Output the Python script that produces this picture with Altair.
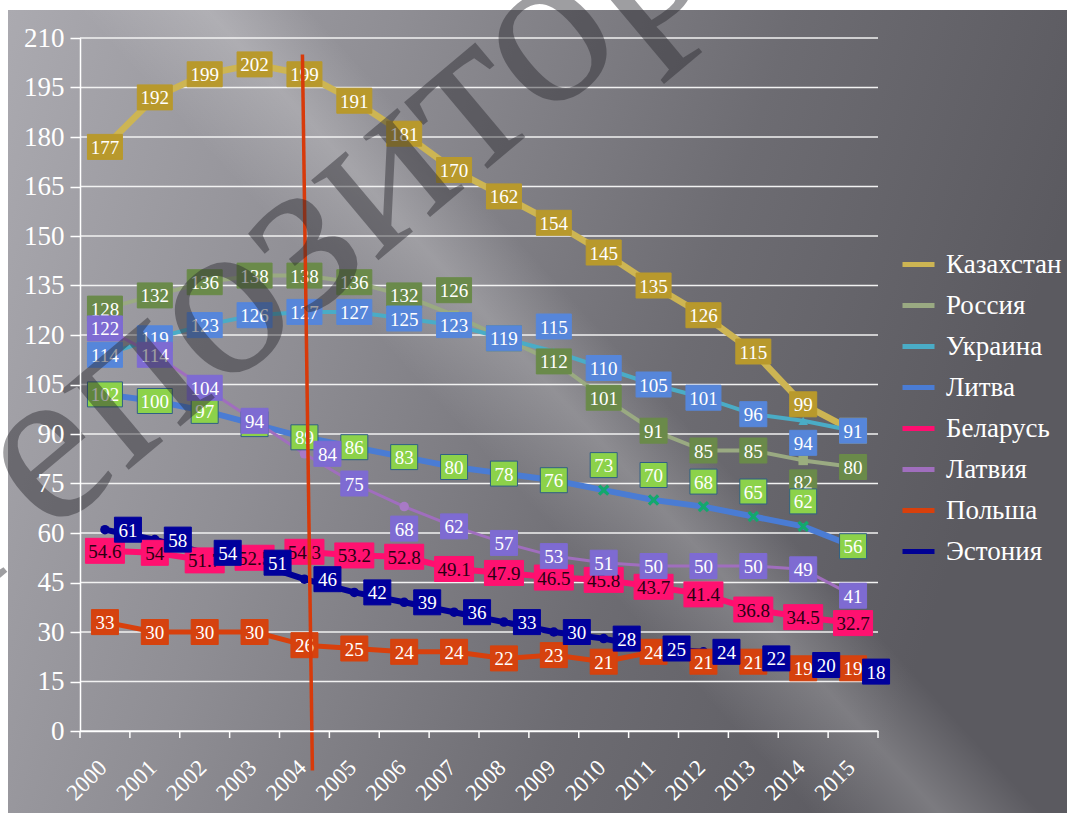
import altair as alt
import pandas as pd

# ---------------- data ----------------
YEARS = list(range(2000, 2016))
SERIES = ["Казахстан", "Россия", "Украина", "Литва", "Беларусь", "Латвия", "Польша", "Эстония"]
KAZ = [177, 192, 199, 202, 199, 191, 181, 170, 162, 154, 145, 135, 126, 115, 99, 91]
RUS = [128, 132, 136, 138, 138, 136, 132, 126, 119, 112, 101, 91, 85, 85, 82, 80]
UKR = [114, 119, 123, 126, 127, 127, 125, 123, 119, 115, 110, 105, 101, 96, 94, 91]
LIT = [102, 100, 97, 93, 89, 86, 83, 80, 78, 76, 73, 70, 68, 65, 62, 56]
BLR = [54.6, 54, 51.7, 52.5, 54.3, 53.2, 52.8, 49.1, 47.9, 46.5, 45.8, 43.7, 41.4, 36.8, 34.5, 32.7]
LAT = [122, 114, 104, 94, 84, 75, 68, 62, 57, 53, 51, 50, 50, 50, 49, 41]
POL = [33, 30, 30, 30, 26, 25, 24, 24, 22, 23, 21, 24, 21, 21, 19, 19]
EST = [61, 58, 54, 51, 46, 42, 39, 36, 33, 30, 28, 25, 24, 22, 20, 18]
VALUES = [KAZ, RUS, UKR, LIT, BLR, LAT, POL, EST]
Y_TICKS = list(range(0, 211, 15))
RED_LINE_X = [2003.96, 2004.16]
RED_LINE_Y = [205, -12]
WATERMARK = "Репозиторий"

# ---------------- styles ----------------
W, H = 798, 693
X_DOMAIN = [1999.5, 2015.5]
Y_DOMAIN = [0, 210]
PX_X = W / (X_DOMAIN[1] - X_DOMAIN[0])   # px per year
PX_Y = H / (Y_DOMAIN[1] - Y_DOMAIN[0])   # px per unit

X_SHAPE = "M-1,-0.6L-0.6,-1L0,-0.4L0.6,-1L1,-0.6L0.4,0L1,0.6L0.6,1L0,0.4L-0.6,1L-1,0.6L-0.4,0Z"
STYLE = {
    "Казахстан": dict(line="#CDB553", box="#B8992C", txt="#FFFFFF", sw=6.5, shape="diamond", mk="#F0C419", border="#B8992C"),
    "Россия":    dict(line="#9AAA82", box="#6A8A4A", txt="#FFFFFF", sw=4, shape="square", mk="#9BAE7E", border="#6A8A4A"),
    "Украина":   dict(line="#4AACC6", box="#5686DA", txt="#FFFFFF", sw=4, shape="triangle-up", mk="#4AACC6", border="#5686DA"),
    "Литва":     dict(line="#4A7CD4", box="#8CD24A", txt="#FFFFFF", sw=6, shape=X_SHAPE, mk="#14A86C", border="#2F5F86"),
    "Беларусь":  dict(line="#FF0E70", box="#FF1170", txt="#2A0012", sw=6, shape="circle", mk="#FF0E70", border="#FF1170"),
    "Латвия":    dict(line="#A06EBE", box="#7E6BD2", txt="#FFFFFF", sw=3, shape="circle", mk="#A87AC6", border="#7E6BD2"),
    "Польша":    dict(line="#D8400C", box="#D6420E", txt="#FFFFFF", sw=5, shape="diamond", mk="#D8400C", border="#D6420E"),
    "Эстония":   dict(line="#000094", box="#00009C", txt="#FFFFFF", sw=6, shape="circle", mk="#000094", border="#00009C"),
}
# label placement (Excel-style), default "center"
SERIES_PLACEMENT = {"Эстония": "right"}
POINT_PLACEMENT = {
    ("Россия", 2007): "above", ("Россия", 2014): "below",
    ("Украина", 2009): "above", ("Украина", 2014): "below",
    ("Литва", 2010): "above", ("Литва", 2011): "above", ("Литва", 2012): "above",
    ("Литва", 2013): "above", ("Литва", 2014): "above",
    ("Латвия", 2004): "right", ("Латвия", 2006): "below",
}
OFFSET_PX = {"center": (0, 0), "above": (0, -25), "below": (0, 22), "right": (23, 0)}
HALF_W_PX = {1: 10, 2: 13.5, 3: 17.5, 4: 19.5}
HALF_H_PX = 12.5

FONT = "Liberation Serif"

# ---------------- tables ----------------
rows = []
for si, (name, vals) in enumerate(zip(SERIES, VALUES)):
    st = STYLE[name]
    for yr, v in zip(YEARS, vals):
        lab = f"{v:g}"
        pl = POINT_PLACEMENT.get((name, yr), SERIES_PLACEMENT.get(name, "center"))
        dxp, dyp = OFFSET_PX[pl]
        lx = yr + dxp / PX_X
        ly = v - dyp / PX_Y
        hw = HALF_W_PX[len(lab)] / PX_X
        hh = HALF_H_PX / PX_Y
        rows.append(dict(series=name, order=si, year=yr, value=v, label=lab,
                         lx=lx, ly=ly, bx1=lx - hw, bx2=lx + hw, by1=ly - hh, by2=ly + hh,
                         box=st["box"], txt=st["txt"], sw=st["sw"], border=st["border"]))
df = pd.DataFrame(rows)

x_scale = alt.Scale(domain=X_DOMAIN, nice=False, zero=False)
y_scale = alt.Scale(domain=Y_DOMAIN, nice=False, zero=False)

one = pd.DataFrame({"k": [0]})

# background gradient (whole canvas except thin white strip top/left)
bg = alt.Chart(one).mark_rect(
    fill={"gradient": "linear", "x1": 0, "y1": 0, "x2": 1, "y2": 0.25,
          "stops": [{"offset": 0, "color": "#abaab0"},
                    {"offset": 0.35, "color": "#8f8e94"},
                    {"offset": 0.7, "color": "#6d6c72"},
                    {"offset": 1, "color": "#5b5a60"}]}
).encode(x=alt.value(-72), x2=alt.value(W + 189), y=alt.value(-28), y2=alt.value(H + 82))

streak = alt.Chart(one).mark_rect(
    fill={"gradient": "linear", "x1": 0.0, "y1": 0.6, "x2": 0.816, "y2": 0.036,
          "stops": [{"offset": 0, "color": "rgba(255,255,255,0)"},
                    {"offset": 0.40, "color": "rgba(255,255,255,0)"},
                    {"offset": 0.5, "color": "rgba(255,255,255,0.20)"},
                    {"offset": 0.58, "color": "rgba(255,255,255,0)"},
                    {"offset": 1, "color": "rgba(255,255,255,0)"}]}
).encode(x=alt.value(-72), x2=alt.value(W + 189), y=alt.value(-28), y2=alt.value(H + 82))

grid = alt.Chart(pd.DataFrame({"t": Y_TICKS})).mark_rule(color="#f2f2f2", strokeWidth=1.5).encode(
    y=alt.Y("t:Q", scale=y_scale, axis=alt.Axis(values=Y_TICKS, grid=False, domainColor="white",
                                                domainWidth=1.5, tickColor="white", tickSize=10,
                                                tickWidth=1.5, labelColor="white", labelFont=FONT,
                                                labelFontSize=27, labelPadding=6, zindex=1, title=None)),
    x=alt.value(0), x2=alt.value(W))

bounds = [y - 0.5 for y in YEARS] + [YEARS[-1] + 0.5]
xticks = alt.Chart(pd.DataFrame({"b": bounds})).mark_rule(color="white", strokeWidth=1.5, y2Offset=7).encode(
    x=alt.X("b:Q", scale=x_scale,
            axis=alt.Axis(values=YEARS, format="d", ticks=False, grid=False, domainColor="white",
                          domainWidth=1.5, labelColor="white", labelFont=FONT, labelFontSize=23,
                          labelAngle=315, labelAlign="right", labelBaseline="top", labelPadding=25,
                          labelOffset=-10, labelOverlap=False, labelFlush=False, zindex=1, title=None)),
    y=alt.datum(0), y2=alt.datum(0))

lines = alt.Chart(df).mark_line(strokeCap="round", strokeJoin="round").encode(
    x=alt.X("year:Q", scale=x_scale),
    y=alt.Y("value:Q", scale=y_scale),
    color=alt.Color("series:N", sort=SERIES,
                    scale=alt.Scale(domain=SERIES, range=[STYLE[s]["line"] for s in SERIES]),
                    legend=alt.Legend(title=None, orient="none", legendX=820, legendY=208,
                                      symbolType="stroke", symbolSize=1024, symbolStrokeWidth=5,
                                      labelFont=FONT, labelFontSize=27, labelColor="white",
                                      labelOffset=9, rowPadding=9, padding=0, labelLimit=200)),
    strokeWidth=alt.StrokeWidth("sw:Q", scale=None),
    order=alt.Order("year:Q"),
)

markers = []
for name in SERIES:
    st = STYLE[name]
    size = 130 if name == "Литва" else 90
    markers.append(
        alt.Chart(df[df.series == name]).mark_point(shape=st["shape"], filled=True, size=size,
                                                    color=st["mk"], opacity=1).encode(
            x=alt.X("year:Q", scale=x_scale), y=alt.Y("value:Q", scale=y_scale)))

label_layers = []
for name in SERIES:
    sub = df[df.series == name]
    label_layers.append(alt.Chart(sub).mark_rect(strokeWidth=1).encode(
        x=alt.X("bx1:Q", scale=x_scale), x2="bx2:Q",
        y=alt.Y("by1:Q", scale=y_scale), y2="by2:Q",
        fill=alt.Fill("box:N", scale=None),
        stroke=alt.Stroke("border:N", scale=None)))
    label_layers.append(alt.Chart(sub).mark_text(font=FONT, fontSize=19, align="center",
                                                 baseline="middle", dy=1).encode(
        x=alt.X("lx:Q", scale=x_scale), y=alt.Y("ly:Q", scale=y_scale),
        text="label:N", color=alt.Color("txt:N", scale=None)))

red = alt.Chart(pd.DataFrame({"x1": [RED_LINE_X[0]], "x2": [RED_LINE_X[1]],
                              "y1": [RED_LINE_Y[0]], "y2": [RED_LINE_Y[1]]})).mark_rule(
    color="#D83A0A", strokeWidth=3.5).encode(
    x=alt.X("x1:Q", scale=x_scale), x2="x2:Q", y=alt.Y("y1:Q", scale=y_scale), y2="y2:Q")

wm = alt.Chart(one).mark_text(text=WATERMARK, font=FONT, fontSize=228, angle=320,
                              align="center", baseline="middle", color="#2b2a30", opacity=0.45).encode(
    x=alt.value(305), y=alt.value(128))

chart = alt.layer(bg, streak, grid, xticks, lines, *markers, *label_layers, red, wm).properties(
    width=W, height=H,
    autosize=alt.AutoSizeParams(type="none"),
    padding={"left": 80, "top": 38, "right": 189, "bottom": 82},
    background="white",
).configure_view(stroke="transparent")

chart.save("out.html", embed_options={"renderer": "svg", "actions": False})
